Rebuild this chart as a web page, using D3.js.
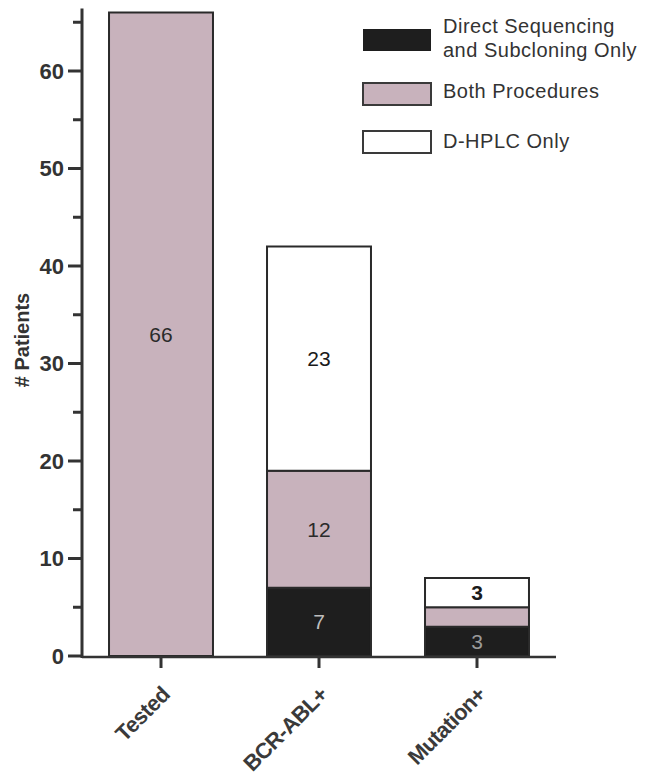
<!DOCTYPE html>
<html><head><meta charset="utf-8">
<script src="https://cdn.jsdelivr.net/npm/d3@7"></script>
<style>body{margin:0;background:#fff}svg{display:block}</style>
</head><body>
<svg id="chart" width="658" height="775"></svg>
<script>
const categories = ["Tested", "BCR-ABL+", "Mutation+"];
const seriesNames = ["Direct Sequencing and Subcloning Only", "Both Procedures", "D-HPLC Only"];
const directOnly = [0, 7, 3];
const bothProcedures = [66, 12, 2];
const dhplcOnly = [0, 23, 3];
const barLabels = [["", "66", ""], ["7", "12", "23"], ["3", "", "3"]];
const yTicksMajor = [0, 10, 20, 30, 40, 50, 60];
const yTicksMinor = [5, 15, 25, 35, 45, 55, 65];

const svg = d3.select("#chart");
const font = "'Liberation Sans', Arial, Helvetica, sans-serif";
const colors = ["#1e1e1e", "#c8b2bc", "#ffffff"];
const strokeCol = "#2a2a2a";

const x = d3.scaleBand().domain(categories).range([82, 556]).paddingInner(0.342).paddingOuter(0.171);
const y = d3.scaleLinear().domain([0, 66]).range([656, 12.5]);

const table = categories.map((c, i) => ({cat: c, d: directOnly[i], b: bothProcedures[i], h: dhplcOnly[i], idx: i}));
const stack = d3.stack().keys(["d", "b", "h"])(table);

// bars
stack.forEach((layer, li) => {
  svg.append("g").selectAll("rect").data(layer.filter(s => s[1] > s[0])).join("rect")
    .attr("x", s => x(s.data.cat))
    .attr("y", s => y(s[1]))
    .attr("width", x.bandwidth())
    .attr("height", s => y(s[0]) - y(s[1]))
    .attr("fill", colors[li])
    .attr("stroke", strokeCol)
    .attr("stroke-width", 2);
});

// bar labels
const labelFill = ["#bdbdbd", "#2a2a2a", "#1a1a1a"];
stack.forEach((layer, li) => {
  layer.forEach((s, ci) => {
    const t = barLabels[ci][li];
    if (!t) return;
    svg.append("text")
      .attr("x", x(s.data.cat) + x.bandwidth() / 2)
      .attr("y", y((s[0] + s[1]) / 2))
      .attr("dy", "0.36em")
      .attr("text-anchor", "middle")
      .attr("font-family", font)
      .attr("font-size", 21)
      .attr("font-weight", (ci === 2 && li === 2) ? "bold" : "normal")
      .attr("fill", (ci === 2 && li === 0) ? "#9a9a9a" : labelFill[li])
      .text(t);
  });
});

// y axis
const axisCol = "#333";
svg.append("line").attr("x1", 82).attr("x2", 82).attr("y1", y(66.4)).attr("y2", 658)
  .attr("stroke", axisCol).attr("stroke-width", 3);
svg.append("g").selectAll("line").data(yTicksMajor).join("line")
  .attr("x1", 68).attr("x2", 82).attr("y1", d => y(d)).attr("y2", d => y(d))
  .attr("stroke", axisCol).attr("stroke-width", 3);
svg.append("g").selectAll("line").data(yTicksMinor).join("line")
  .attr("x1", 73).attr("x2", 82).attr("y1", d => y(d)).attr("y2", d => y(d))
  .attr("stroke", axisCol).attr("stroke-width", 3);
svg.append("g").selectAll("text").data(yTicksMajor).join("text")
  .attr("x", 64).attr("y", d => y(d)).attr("dy", "0.36em")
  .attr("text-anchor", "end").attr("font-family", font).attr("font-size", 22)
  .attr("font-weight", "bold").attr("fill", axisCol).text(d => d);

svg.append("text")
  .attr("transform", "translate(29,340) rotate(-90)")
  .attr("text-anchor", "middle").attr("font-family", font).attr("font-size", 20)
  .attr("font-weight", "bold").attr("fill", axisCol).text("# Patients");

// x axis
svg.append("line").attr("x1", 82).attr("x2", 556).attr("y1", 657).attr("y2", 657)
  .attr("stroke", axisCol).attr("stroke-width", 2.5);
svg.append("g").selectAll("line").data(categories).join("line")
  .attr("x1", d => x(d) + x.bandwidth() / 2).attr("x2", d => x(d) + x.bandwidth() / 2)
  .attr("y1", 657).attr("y2", 668)
  .attr("stroke", axisCol).attr("stroke-width", 3);
svg.append("g").selectAll("text").data(categories).join("text")
  .attr("transform", d => `translate(${x(d) + x.bandwidth() / 2 + 10},696) rotate(-45)`)
  .attr("text-anchor", "end").attr("font-family", font).attr("font-size", 22)
  .attr("font-weight", "bold").attr("letter-spacing", -0.6).attr("fill", "#3a3a3a").text(d => d);

// legend
const lg = svg.append("g").attr("font-family", font).attr("font-size", 20).attr("fill", "#333");
const legendRows = [
  {i: 0, top: 29, lines: ["Direct Sequencing", "and Subcloning Only"], base: [33, 57]},
  {i: 1, top: 83, lines: ["Both Procedures"], base: [98]},
  {i: 2, top: 131, lines: ["D-HPLC Only"], base: [148]}
];
legendRows.forEach(r => {
  lg.append("rect").attr("x", 363).attr("y", r.top).attr("width", 68).attr("height", 22)
    .attr("fill", colors[r.i]).attr("stroke", r.i === 0 ? "none" : "#3a3a3a").attr("stroke-width", 2);
  r.lines.forEach((t, k) => {
    lg.append("text").attr("x", 443).attr("y", r.base[k]).attr("letter-spacing", 0.5)
      .attr("fill", "#333").text(t);
  });
});
</script>
</body></html>
